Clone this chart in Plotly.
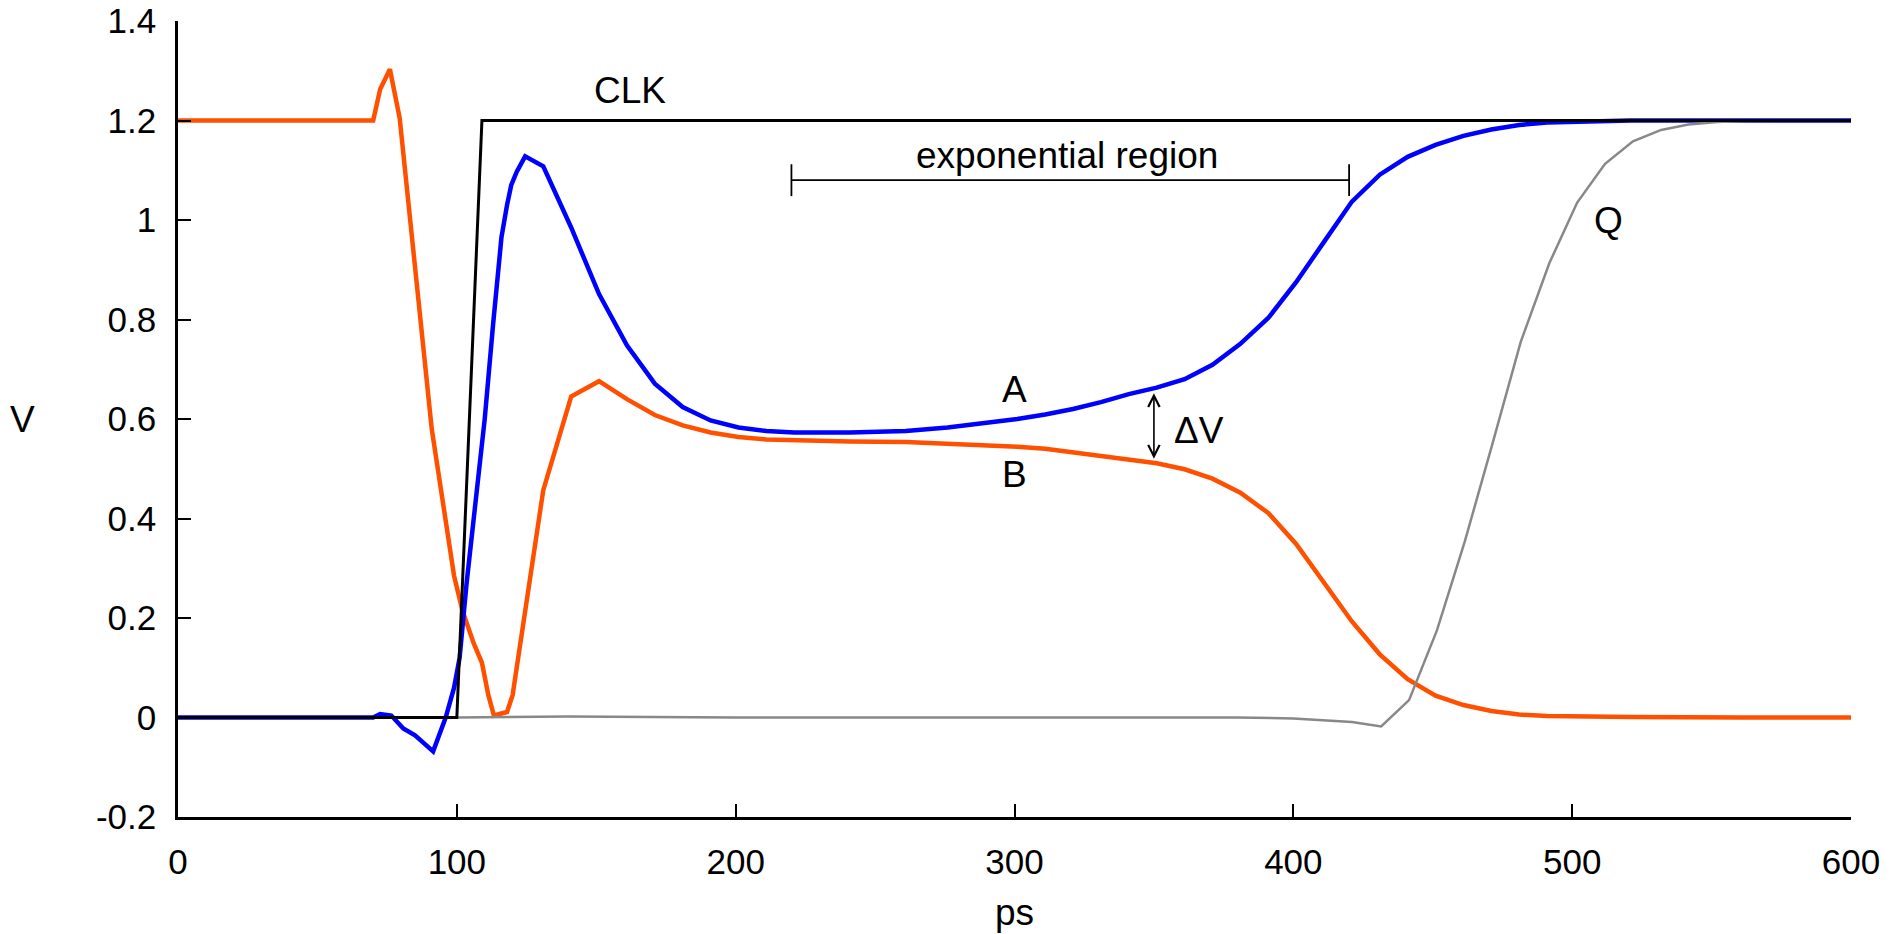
import plotly.graph_objects as go

# ---------------- data ----------------
clk_t = [0, 100, 109, 600]
clk_v = [0, 0, 1.2, 1.2]

a_t = [0, 70, 72.5, 76.5, 80.8, 85, 91.5, 96, 99, 101, 103.5, 106.5, 110, 113, 116, 118, 119.5,
       121.5, 124.5, 131, 141, 151, 161, 171, 181, 191, 201, 211, 221, 241, 261, 276, 291, 301,
       311, 321, 331, 341, 351, 361, 371, 381, 391, 401, 411, 421, 431, 441, 451, 461, 471, 481,
       491, 501, 521, 600]
a_v = [0, 0, 0.007, 0.004, -0.022, -0.036, -0.068, 0.0, 0.06, 0.12, 0.27, 0.42, 0.60, 0.79, 0.965,
       1.03, 1.07, 1.097, 1.128, 1.108, 0.985, 0.851, 0.748, 0.671, 0.624, 0.597, 0.583, 0.576,
       0.573, 0.573, 0.576, 0.583, 0.593, 0.600, 0.609, 0.620, 0.634, 0.650, 0.663, 0.680, 0.709,
       0.751, 0.803, 0.875, 0.956, 1.037, 1.091, 1.127, 1.151, 1.169, 1.182, 1.191, 1.196, 1.198,
       1.2, 1.2]

b_t = [0, 70, 72.5, 76, 79.5, 91, 99, 102, 106, 109, 111.3, 113.3, 118, 120, 131, 141, 151, 161,
       171, 181, 191, 201, 211, 221, 241, 261, 276, 291, 301, 311, 321, 331, 341, 351, 361, 371,
       381, 391, 401, 411, 421, 431, 441, 451, 461, 471, 481, 491, 501, 521, 561, 600]
b_v = [1.2, 1.2, 1.263, 1.303, 1.205, 0.58, 0.285, 0.215, 0.15, 0.11, 0.045, 0.004, 0.011, 0.045,
       0.457, 0.645, 0.676, 0.640, 0.608, 0.587, 0.573, 0.564, 0.559, 0.557, 0.555, 0.554, 0.551,
       0.547, 0.544, 0.540, 0.533, 0.526, 0.519, 0.511, 0.499, 0.480, 0.452, 0.411, 0.349, 0.271,
       0.193, 0.127, 0.077, 0.044, 0.025, 0.013, 0.006, 0.003, 0.002, 0.001, 0.0, 0.0]

q_t = [0, 100, 140, 200, 300, 380, 400, 411, 421, 431.5, 441.5, 451.5, 461.5, 471.5, 481.5, 491.8,
       501.8, 511.8, 521.8, 531.9, 541.7, 552, 562, 600]
q_v = [0, 0, 0.002, 0.0, 0.0, 0.0, -0.002, -0.005, -0.009, -0.018, 0.035, 0.175, 0.354, 0.552,
       0.754, 0.913, 1.035, 1.113, 1.158, 1.181, 1.192, 1.197, 1.199, 1.2]

x_ticks = [0, 100, 200, 300, 400, 500, 600]
y_ticks = [-0.2, 0, 0.2, 0.4, 0.6, 0.8, 1.0, 1.2, 1.4]
y_tick_text = ["-0.2", "0", "0.2", "0.4", "0.6", "0.8", "1", "1.2", "1.4"]

# annotation positions (data units)
region_start, region_end, region_level = 220, 420, 1.08
dv_t, dv_top, dv_bottom = 350, 0.652, 0.517

FONT = "Liberation Sans, Arial, Helvetica, sans-serif"
FS = 35
AFS = 37

fig = go.Figure()
fig.add_trace(go.Scatter(x=b_t, y=b_v, mode="lines", name="B",
                         line=dict(color="#FF5000", width=4.5)))
fig.add_trace(go.Scatter(x=a_t, y=a_v, mode="lines", name="A",
                         line=dict(color="#0000FF", width=4.5)))
fig.add_trace(go.Scatter(x=q_t, y=q_v, mode="lines", name="Q",
                         line=dict(color="#888888", width=2.5)))
fig.add_trace(go.Scatter(x=clk_t, y=clk_v, mode="lines", name="CLK",
                         line=dict(color="#000000", width=3)))

ann = []
def txt(x, y, s, **kw):
    d = dict(x=x, y=y, text=s, showarrow=False, font=dict(family=FONT, size=AFS, color="black"),
             xanchor="center", yanchor="middle")
    d.update(kw)
    ann.append(d)

txt(162, 1.26, "CLK")
txt(319, 1.129, "exponential region")
txt(300, 0.66, "A")
txt(300, 0.489, "B")
txt(366, 0.576, "ΔV")
txt(513, 1.0, "Q")
txt(-0.0932, 0.6, "V", xref="paper")
txt(300, -0.1206, "ps", yref="paper")

# double arrow for delta V
ann.append(dict(x=dv_t, y=dv_top, ax=dv_t, ay=dv_bottom, axref="x", ayref="y",
                xref="x", yref="y", text="", showarrow=True, arrowhead=5, startarrowhead=5,
                arrowside="end+start", arrowsize=1.4, startarrowsize=1.4, arrowwidth=1.6,
                arrowcolor="black"))

shapes = [
    dict(type="line", x0=region_start, x1=region_end, y0=region_level, y1=region_level,
         line=dict(color="black", width=1.8)),
    dict(type="line", x0=region_start, x1=region_start, y0=region_level - 0.032,
         y1=region_level + 0.032, line=dict(color="black", width=1.8)),
    dict(type="line", x0=region_end, x1=region_end, y0=region_level - 0.032,
         y1=region_level + 0.032, line=dict(color="black", width=1.8)),
]

fig.update_layout(
    width=1891, height=934,
    margin=dict(l=178, r=40, t=21, b=117, autoexpand=False),
    paper_bgcolor="white", plot_bgcolor="white",
    showlegend=False,
    annotations=ann, shapes=shapes,
    font=dict(family=FONT, size=FS, color="black"),
)
fig.update_xaxes(range=[0, 600], tickvals=x_ticks, ticktext=[str(t) for t in x_ticks],
                 showgrid=False, zeroline=False, showline=True, linecolor="black", linewidth=2.5,
                 ticks="inside", ticklen=13, tickwidth=2.2, tickcolor="black",
                 tickfont=dict(family=FONT, size=FS, color="black"), ticklabelstandoff=12)
fig.update_yaxes(range=[-0.2, 1.4], tickvals=y_ticks, ticktext=y_tick_text,
                 showgrid=False, zeroline=False, showline=True, linecolor="black", linewidth=2.5,
                 ticks="inside", ticklen=13, tickwidth=2.2, tickcolor="black",
                 tickfont=dict(family=FONT, size=FS, color="black"), ticklabelstandoff=12)

fig.write_html("out.html", post_script="document.body.style.margin='0';",
               config={"displayModeBar": False})
